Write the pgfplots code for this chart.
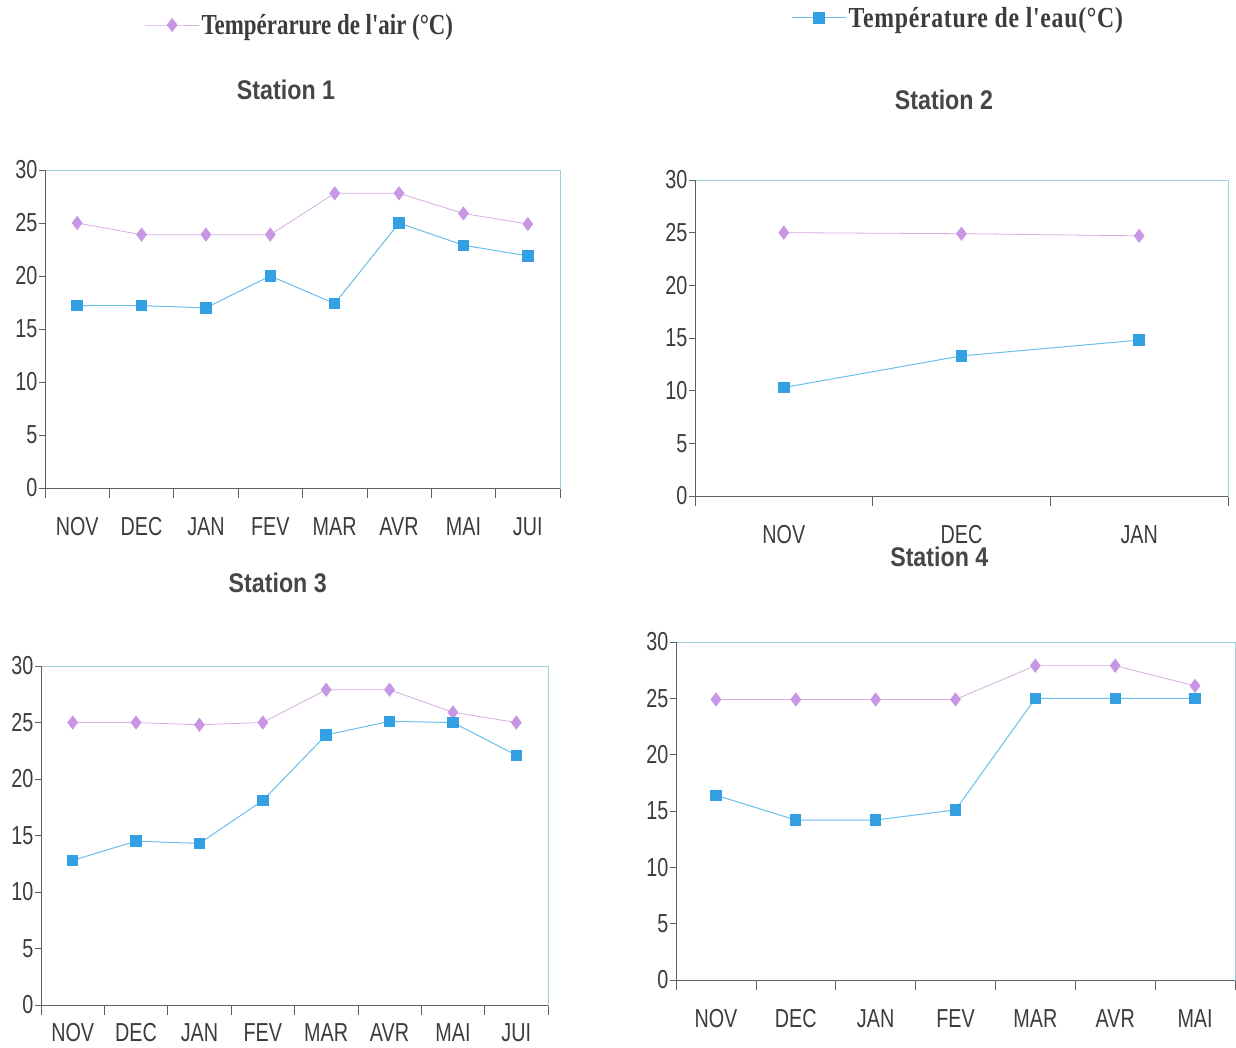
\documentclass[border=0pt]{standalone}
\usepackage{fontspec}
\setmainfont{Liberation Sans}
\newfontfamily\ticksfont[FakeStretch=0.76]{Liberation Sans}
\newfontfamily\titlefont[FakeStretch=0.86]{Liberation Sans}
\newfontfamily\legfont[FakeStretch=0.79]{Liberation Serif}
\newfontfamily\legfontwide[FakeStretch=0.82, LetterSpace=2.5]{Liberation Serif}
\usepackage{pgfplots}
\pgfplotsset{compat=1.18}

\definecolor{airmark}{RGB}{200,150,228}
\definecolor{airline}{RGB}{214,172,226}
\definecolor{eaumark}{RGB}{50,160,226}
\definecolor{eauline}{RGB}{105,190,236}
\definecolor{axisgray}{RGB}{95,95,95}
\definecolor{framec}{RGB}{160,208,224}
\definecolor{labgray}{RGB}{60,60,60}
\definecolor{titlegray}{RGB}{70,70,70}

\pgfplotsset{
  station/.style={
    scale only axis,
    ymin=0, ymax=30, ytick={0,5,...,30},
    xmin=0,
    axis line style={draw=framec, line width=0.6pt},
    xtick pos=bottom, ytick pos=left,
    tick align=outside,
    major tick length=6pt,
    minor tick length=10pt,
    major x tick style={draw=none},
    minor x tick style={draw=axisgray, line width=0.7pt},
    major y tick style={draw=axisgray, line width=0.7pt},
    /pgf/number format/assume math mode=true,
    tick label style={font=\ticksfont\fontsize{26}{30}\selectfont, text=labgray},
    yticklabel style={xshift=2pt},
    title style={anchor=center, yshift=-6pt,
      font=\titlefont\bfseries\fontsize{27}{32}\selectfont, text=titlegray},
    legend style={draw=none, fill=none, anchor=center,
      font=\legfont\bfseries\fontsize{29}{34}\selectfont, text=labgray},
    legend image code/.code={%
      \draw[mark repeat=2, mark phase=2, #1] plot coordinates {(0pt,0pt) (27pt,0pt) (54pt,0pt)};},
    clip=false,
  },
  air/.style={color=airline, line width=0.8pt, mark=diamond*, mark size=6.5pt,
    mark options={draw=airmark, fill=airmark}},
  eau/.style={color=eauline, line width=1pt, mark=square*, mark size=5.2pt,
    mark options={draw=eaumark, fill=eaumark}},
}

% dark x and y axis lines over the light plot-area frame
\newcommand{\darkaxes}{%
  \draw[axisgray, line width=0.8pt] (rel axis cs:0,0) -- (rel axis cs:1,0);
  \draw[axisgray, line width=0.8pt] (rel axis cs:0,0) -- (rel axis cs:0,1);}

\begin{document}
\begin{tikzpicture}
\useasboundingbox (0pt,0pt) rectangle (1236pt,-1048pt);

% Station 1
\begin{axis}[station, at={(45pt,-488pt)}, anchor=south west,
  width=515pt, height=318pt, xmax=8,
  xtick={0.5,1.5,...,7.5}, minor xtick={0,1,...,8},
  xticklabels={NOV,DEC,JAN,FEV,MAR,AVR,MAI,JUI},
  xticklabel style={yshift=-20pt},
  title={Station 1}, title style={at={(0.468,1.252)}},
  legend style={at={(0.495,1.456)}}]
\addplot[air] coordinates {(0.5,25) (1.5,23.9) (2.5,23.9) (3.5,23.9) (4.5,27.8) (5.5,27.8) (6.5,25.9) (7.5,24.9)};
\addlegendentry{Tempérarure de l'air (°C)}
\addplot[eau] coordinates {(0.5,17.2) (1.5,17.2) (2.5,17.0) (3.5,20.0) (4.5,17.4) (5.5,25.0) (6.5,22.9) (7.5,21.9)};
\darkaxes
\end{axis}

% Station 2
\begin{axis}[station, at={(695pt,-496pt)}, anchor=south west,
  width=533pt, height=316pt, xmax=3,
  xtick={0.5,1.5,2.5}, minor xtick={0,1,2,3},
  xticklabels={NOV,DEC,JAN},
  xticklabel style={yshift=-20pt},
  title={Station 2}, title style={at={(0.467,1.253)}},
  legend style={at={(0.494,1.513)}, font=\legfontwide\bfseries\fontsize{29}{34}\selectfont}]
\addplot[air, forget plot] coordinates {(0.5,25) (1.5,24.9) (2.5,24.7)};
\addplot[eau] coordinates {(0.5,10.3) (1.5,13.3) (2.5,14.8)};
\addlegendentry{Température de l'eau(°C)}
\darkaxes
\end{axis}

% Station 3
\begin{axis}[station, at={(41pt,-1005pt)}, anchor=south west,
  width=507pt, height=339pt, xmax=8,
  xtick={0.5,1.5,...,7.5}, minor xtick={0,1,...,8},
  xticklabels={NOV,DEC,JAN,FEV,MAR,AVR,MAI,JUI},
  xticklabel style={inner sep=1pt, yshift=-11pt},
  title={Station 3}, title style={at={(0.467,1.245)}}]
\addplot[air] coordinates {(0.5,25) (1.5,25) (2.5,24.8) (3.5,25) (4.5,27.9) (5.5,27.9) (6.5,25.9) (7.5,25)};
\addplot[eau] coordinates {(0.5,12.8) (1.5,14.5) (2.5,14.3) (3.5,18.1) (4.5,23.9) (5.5,25.1) (6.5,25.0) (7.5,22.1)};
\darkaxes
\end{axis}

% Station 4
\begin{axis}[station, at={(676pt,-980pt)}, anchor=south west,
  width=559pt, height=338pt, xmax=7,
  xtick={0.5,1.5,...,6.5}, minor xtick={0,1,...,7},
  xticklabels={NOV,DEC,JAN,FEV,MAR,AVR,MAI},
  xticklabel style={yshift=-20pt},
  title={Station 4}, title style={at={(0.471,1.251)}}]
\addplot[air] coordinates {(0.5,24.9) (1.5,24.9) (2.5,24.9) (3.5,24.9) (4.5,27.9) (5.5,27.9) (6.5,26.1)};
\addplot[eau] coordinates {(0.5,16.4) (1.5,14.2) (2.5,14.2) (3.5,15.1) (4.5,25.0) (5.5,25.0) (6.5,25.0)};
\darkaxes
\end{axis}
\end{tikzpicture}
\end{document}
